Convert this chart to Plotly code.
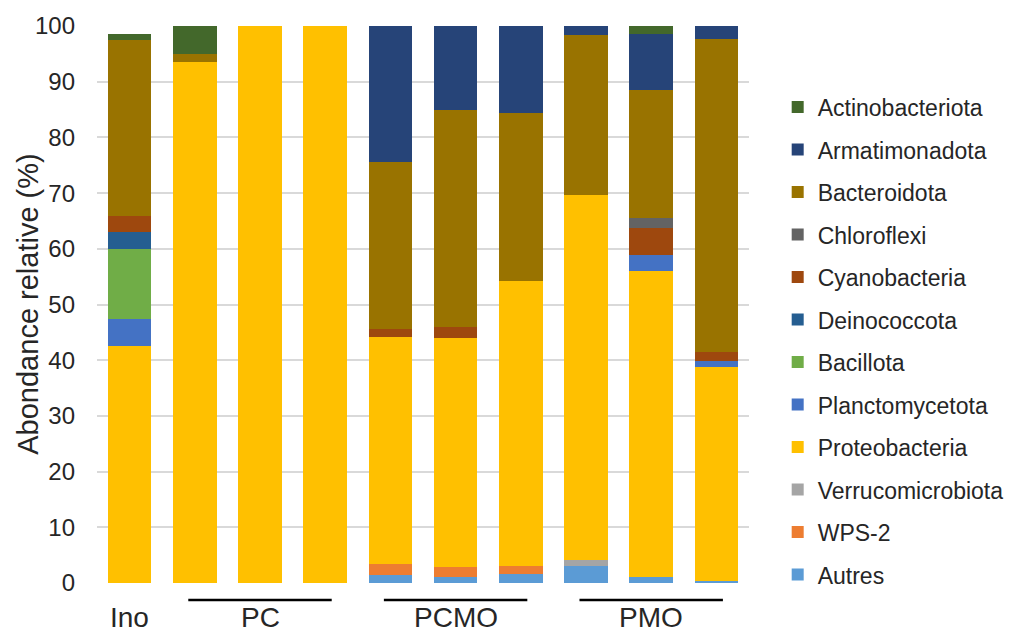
import plotly.graph_objects as go

samples = ["Ino", "PC-1", "PC-2", "PC-3", "PCMO-1", "PCMO-2", "PCMO-3", "PMO-1", "PMO-2", "PMO-3"]

# stacking order: bottom -> top
autres        = [0.0, 0.0, 0.0, 0.0, 1.4, 1.0, 1.7, 3.1, 1.0, 0.4]
wps2          = [0.0, 0.0, 0.0, 0.0, 2.1, 1.8, 1.3, 0.0, 0.0, 0.0]
verruco       = [0.0, 0.0, 0.0, 0.0, 0.0, 0.0, 0.0, 1.1, 0.0, 0.0]
proteo        = [42.6, 93.6, 100.0, 100.0, 40.7, 41.1, 51.3, 65.4, 55.1, 38.3]
plancto       = [4.8, 0.0, 0.0, 0.0, 0.0, 0.0, 0.0, 0.0, 2.7, 1.2]
bacillota     = [12.6, 0.0, 0.0, 0.0, 0.0, 0.0, 0.0, 0.0, 0.0, 0.0]
deino         = [3.0, 0.0, 0.0, 0.0, 0.0, 0.0, 0.0, 0.0, 0.0, 0.0]
cyano         = [2.8, 0.0, 0.0, 0.0, 1.4, 2.1, 0.0, 0.0, 4.9, 1.5]
chloroflexi   = [0.0, 0.0, 0.0, 0.0, 0.0, 0.0, 0.0, 0.0, 1.9, 0.0]
bacteroidota  = [31.7, 1.4, 0.0, 0.0, 29.9, 38.85, 30.1, 28.7, 22.9, 56.35]
armat         = [0.0, 0.0, 0.0, 0.0, 24.5, 15.15, 15.6, 1.7, 10.1, 2.25]
actino        = [1.1, 5.0, 0.0, 0.0, 0.0, 0.0, 0.0, 0.0, 1.4, 0.0]

series = [
    ("Autres", autres, "#5B9BD5"),
    ("WPS-2", wps2, "#ED7D31"),
    ("Verrucomicrobiota", verruco, "#A5A5A5"),
    ("Proteobacteria", proteo, "#FFC000"),
    ("Planctomycetota", plancto, "#4472C4"),
    ("Bacillota", bacillota, "#70AD47"),
    ("Deinococcota", deino, "#255E91"),
    ("Cyanobacteria", cyano, "#9E480E"),
    ("Chloroflexi", chloroflexi, "#636363"),
    ("Bacteroidota", bacteroidota, "#997300"),
    ("Armatimonadota", armat, "#264478"),
    ("Actinobacteriota", actino, "#43682B"),
]

# group labels: (label, centre index, underline?)
groups = [("Ino", 0, False), ("PC", 2, True), ("PCMO", 5, True), ("PMO", 8, True)]

xs = list(range(len(samples)))
FONT = "Liberation Sans, Arial, sans-serif"

fig = go.Figure()
n = len(series)
for i, (name, vals, col) in enumerate(series):
    fig.add_trace(go.Bar(
        x=xs, y=vals, name=name, legendgroup=name, legendrank=100 + (n - i),
        marker=dict(color=col, line=dict(width=0)),
        width=0.67,
    ))

annotations = [
    dict(text="Abondance relative (%)", xref="paper", yref="paper",
         x=-0.107, y=0.5, textangle=-90, showarrow=False,
         xanchor="center", yanchor="middle",
         font=dict(size=29, color="#262626", family=FONT)),
]
shapes = []
for lab, c, line in groups:
    annotations.append(dict(text=lab, xref="x", yref="paper", x=c, y=-0.062,
                            showarrow=False, xanchor="center", yanchor="middle",
                            font=dict(size=28, color="#262626", family=FONT)))
    if line:
        shapes.append(dict(type="line", xref="x", yref="paper",
                           x0=c - 1.1, x1=c + 1.1, y0=-0.0303, y1=-0.0303,
                           line=dict(color="black", width=2.5)))

fig.update_layout(
    width=1021, height=633,
    margin=dict(l=97, r=254, t=22, b=50),
    barmode="stack",
    plot_bgcolor="white", paper_bgcolor="white",
    font=dict(family=FONT, size=23, color="#262626"),
    xaxis=dict(range=[-0.5, 9.5], showticklabels=False, showgrid=False,
               zeroline=False, showline=False, ticks=""),
    yaxis=dict(range=[0, 100], dtick=10, showgrid=True, gridcolor="#D9D9D9",
               gridwidth=1.5, zeroline=False, showline=False, ticks="",
               tickfont=dict(size=24, color="#262626"), ticklabelstandoff=21),
    legend=dict(traceorder="grouped", x=1.044, xanchor="left", y=0.893,
                yanchor="top", font=dict(size=23, color="#262626"),
                tracegroupgap=9.6, bgcolor="rgba(0,0,0,0)"),
    annotations=annotations,
    shapes=shapes,
    showlegend=True,
)

fig.write_html("out.html", config={"displayModeBar": False},
               post_script="document.body.style.margin='0px';document.body.style.overflow='hidden';")
